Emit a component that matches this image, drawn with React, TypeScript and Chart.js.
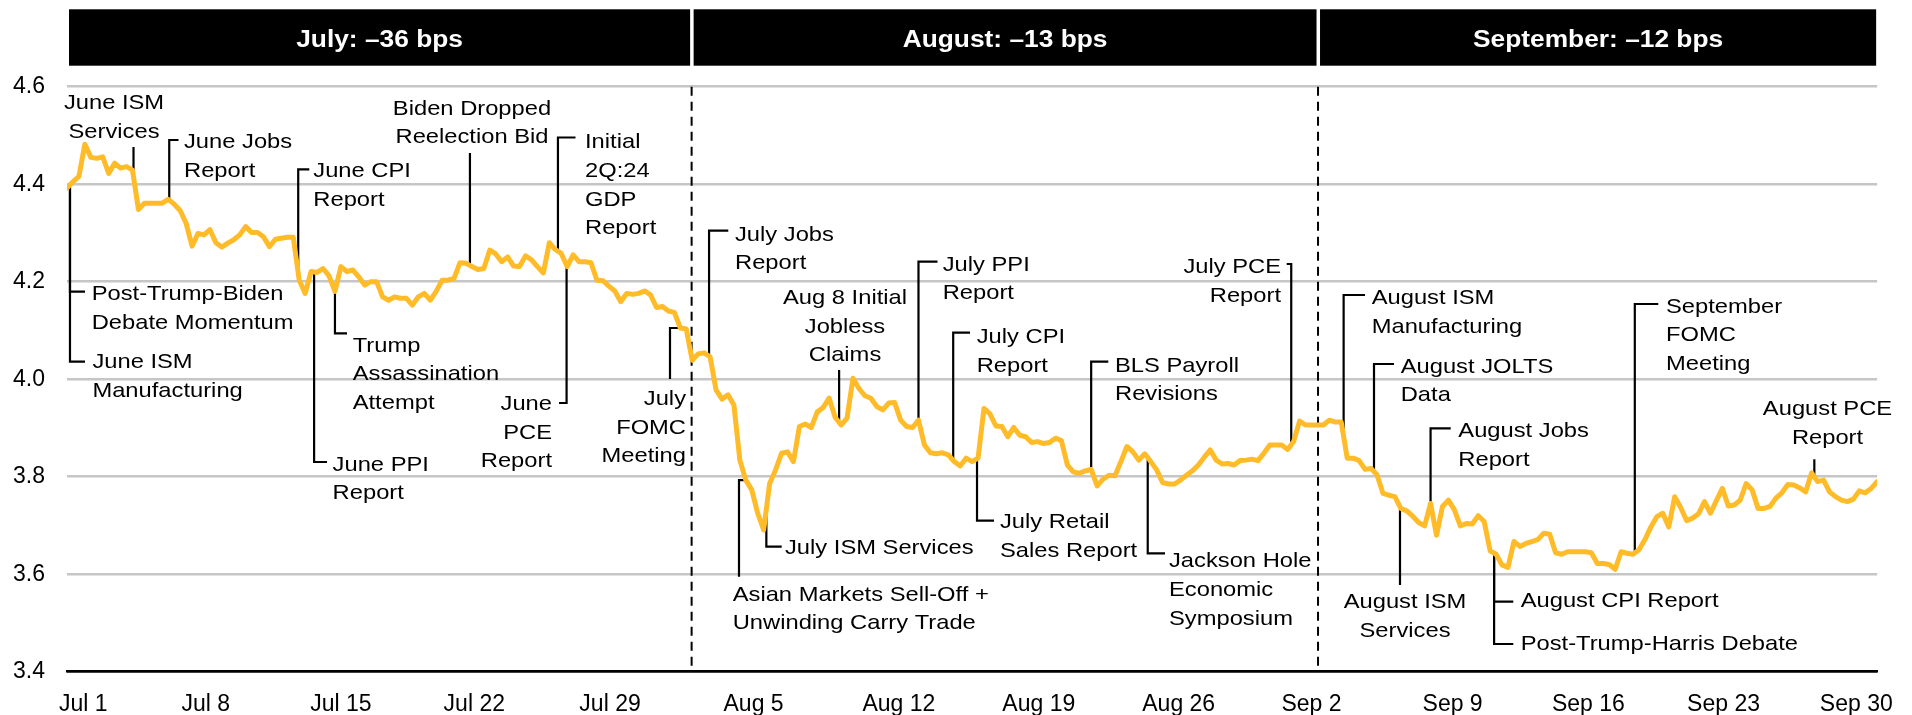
import React, { useEffect, useRef } from 'react';
import { Chart, registerables } from 'chart.js';

Chart.register(...registerables);

// ---------- DATA ----------
// 10-year yield (%), evenly spaced intraday observations, Jul 1 – Sep 30
const YIELD_SERIES: number[] = [
  4.392, 4.405, 4.416, 4.482, 4.455, 4.453, 4.456, 4.422, 4.443, 4.433,
  4.436, 4.429, 4.348, 4.361, 4.361, 4.361, 4.361, 4.369, 4.359, 4.346,
  4.320, 4.273, 4.299, 4.296, 4.307, 4.280, 4.271, 4.279, 4.286, 4.296,
  4.313, 4.301, 4.301, 4.292, 4.272, 4.287, 4.289, 4.291, 4.291, 4.203,
  4.176, 4.221, 4.219, 4.227, 4.212, 4.180, 4.231, 4.221, 4.224, 4.210,
  4.193, 4.200, 4.200, 4.169, 4.162, 4.169, 4.166, 4.166, 4.152, 4.169,
  4.176, 4.162, 4.180, 4.203, 4.203, 4.207, 4.239, 4.238, 4.231, 4.225,
  4.227, 4.265, 4.257, 4.241, 4.251, 4.232, 4.231, 4.253, 4.245, 4.231,
  4.218, 4.280, 4.266, 4.258, 4.231, 4.255, 4.241, 4.241, 4.239, 4.203,
  4.202, 4.191, 4.181, 4.159, 4.176, 4.174, 4.176, 4.181, 4.173, 4.147,
  4.149, 4.140, 4.137, 4.105, 4.103, 4.039, 4.052, 4.054, 4.046, 3.978,
  3.959, 3.968, 3.947, 3.834, 3.793, 3.773, 3.725, 3.691, 3.786, 3.814,
  3.848, 3.851, 3.831, 3.903, 3.908, 3.901, 3.933, 3.942, 3.961, 3.922,
  3.906, 3.920, 4.002, 3.981, 3.966, 3.961, 3.944, 3.937, 3.951, 3.952,
  3.916, 3.903, 3.901, 3.916, 3.865, 3.849, 3.847, 3.849, 3.845, 3.831,
  3.822, 3.838, 3.831, 3.838, 3.940, 3.929, 3.904, 3.903, 3.882, 3.901,
  3.885, 3.882, 3.870, 3.872, 3.868, 3.870, 3.879, 3.874, 3.824, 3.810,
  3.807, 3.812, 3.815, 3.781, 3.795, 3.803, 3.802, 3.831, 3.862, 3.851,
  3.834, 3.847, 3.831, 3.814, 3.788, 3.785, 3.785, 3.793, 3.803, 3.812,
  3.824, 3.840, 3.855, 3.834, 3.826, 3.827, 3.824, 3.833, 3.834, 3.836,
  3.833, 3.848, 3.865, 3.865, 3.865, 3.856, 3.872, 3.914, 3.906, 3.906,
  3.906, 3.906, 3.916, 3.912, 3.912, 3.838, 3.838, 3.833, 3.815, 3.817,
  3.804, 3.766, 3.762, 3.759, 3.735, 3.730, 3.719, 3.706, 3.699, 3.745,
  3.680, 3.739, 3.752, 3.732, 3.699, 3.704, 3.703, 3.720, 3.708, 3.648,
  3.641, 3.619, 3.614, 3.667, 3.657, 3.663, 3.667, 3.671, 3.684, 3.682,
  3.644, 3.641, 3.646, 3.646, 3.646, 3.646, 3.644, 3.622, 3.622, 3.620,
  3.610, 3.646, 3.643, 3.641, 3.650, 3.671, 3.697, 3.718, 3.725, 3.697,
  3.759, 3.737, 3.710, 3.715, 3.724, 3.749, 3.725, 3.751, 3.776, 3.740,
  3.742, 3.752, 3.786, 3.773, 3.735, 3.735, 3.739, 3.756, 3.767, 3.784,
  3.783, 3.777, 3.769, 3.808, 3.790, 3.793, 3.769, 3.759, 3.752, 3.749,
  3.754, 3.771, 3.767, 3.776, 3.790,
];

// x tick labels and the observation index where each sits
const X_TICK_LABELS: string[] = [
  'Jul 1', 'Jul 8', 'Jul 15', 'Jul 22', 'Jul 29', 'Aug 5', 'Aug 12',
  'Aug 19', 'Aug 26', 'Sep 2', 'Sep 9', 'Sep 16', 'Sep 23', 'Sep 30',
];
const X_TICK_INDEX: number[] = [
  2.75, 23.3, 46, 68.4, 91.2, 115.3, 139.7, 163.2, 186.7, 209, 232.7, 255.5, 278.2, 300.5,
];

const Y_MIN = 3.4;
const Y_MAX = 4.6;
const Y_STEP = 0.2;

// month boundaries (observation index) and month headers
const MONTH_BREAK_INDEX: number[] = [104.9, 210.1];
const MONTH_HEADERS: string[] = ['July: \u201336 bps', 'August: \u201313 bps', 'September: \u201312 bps'];

// events: text and anchor observation index
const EVENT_TEXT: string[][] = [
  ['June ISM', 'Services'],
  ['June Jobs', 'Report'],
  ['June CPI', 'Report'],
  ['Biden Dropped', 'Reelection Bid'],
  ['Initial', '2Q:24', 'GDP', 'Report'],
  ['Post-Trump-Biden', 'Debate Momentum'],
  ['June ISM', 'Manufacturing'],
  ['June PPI', 'Report'],
  ['Trump', 'Assassination', 'Attempt'],
  ['June', 'PCE', 'Report'],
  ['July', 'FOMC', 'Meeting'],
  ['July Jobs', 'Report'],
  ['July ISM Services'],
  ['Asian Markets Sell-Off +', 'Unwinding Carry Trade'],
  ['Aug 8 Initial', 'Jobless', 'Claims'],
  ['July PPI', 'Report'],
  ['July CPI', 'Report'],
  ['July Retail', 'Sales Report'],
  ['BLS Payroll', 'Revisions'],
  ['Jackson Hole', 'Economic', 'Symposium'],
  ['July PCE', 'Report'],
  ['August ISM', 'Manufacturing'],
  ['August JOLTS', 'Data'],
  ['August ISM', 'Services'],
  ['August Jobs', 'Report'],
  ['August CPI Report'],
  ['Post-Trump-Harris Debate'],
  ['September', 'FOMC', 'Meeting'],
  ['August PCE', 'Report'],
];
const EVENT_INDEX: number[] = [
  11.17, 17.17, 38.83, 67.67, 82.45, 0.5, 0.5, 41.5, 45, 83.9,
  103, 107.83, 117.45, 114, 129.67, 143, 148.83, 152.83, 172, 181.5,
  205.6, 214.4, 219.5, 224.1, 229, 239.67, 239.67, 263.3, 293.45,
];

// ---------- LAYOUT (positions of the event texts and leader elbows, in px) ----------
type Leader = { kind: 'v'; yEnd: number; xEnd?: number } | { kind: 'h'; xTurn: number; yEnd: number };
type EventLayout = { align: CanvasTextAlign; tx: number; ty: number; leader: Leader };
const EVENT_LAYOUT: EventLayout[] = [
  { align: 'center', tx: 114, ty: 109, leader: { kind: 'v', yEnd: 147 } },
  { align: 'left', tx: 184, ty: 148.3, leader: { kind: 'v', yEnd: 140, xEnd: 178.5 } },
  { align: 'left', tx: 313.3, ty: 177.3, leader: { kind: 'v', yEnd: 169.3, xEnd: 309.3 } },
  { align: 'center', tx: 472, ty: 114.6, leader: { kind: 'v', yEnd: 153 } },
  { align: 'left', tx: 585, ty: 148.3, leader: { kind: 'v', yEnd: 137.5, xEnd: 575.5 } },
  { align: 'left', tx: 91.7, ty: 300, leader: { kind: 'v', yEnd: 291.7, xEnd: 85 } },
  { align: 'left', tx: 92.4, ty: 368.3, leader: { kind: 'v', yEnd: 361.7, xEnd: 85 } },
  { align: 'left', tx: 332.6, ty: 470.6, leader: { kind: 'v', yEnd: 462, xEnd: 327 } },
  { align: 'left', tx: 352.7, ty: 351.7, leader: { kind: 'v', yEnd: 333.3, xEnd: 347 } },
  { align: 'right', tx: 552, ty: 410, leader: { kind: 'v', yEnd: 403, xEnd: 559 } },
  { align: 'right', tx: 686, ty: 405, leader: { kind: 'h', xTurn: 670, yEnd: 379 } },
  { align: 'left', tx: 735, ty: 240.7, leader: { kind: 'v', yEnd: 230.7, xEnd: 728.3 } },
  { align: 'left', tx: 785, ty: 554, leader: { kind: 'v', yEnd: 546.7, xEnd: 781.7 } },
  { align: 'left', tx: 732.7, ty: 600.7, leader: { kind: 'h', xTurn: 739, yEnd: 576.7 } },
  { align: 'center', tx: 845, ty: 304, leader: { kind: 'v', yEnd: 370 } },
  { align: 'left', tx: 942.7, ty: 270.7, leader: { kind: 'v', yEnd: 261.7, xEnd: 937.5 } },
  { align: 'left', tx: 976.7, ty: 343, leader: { kind: 'v', yEnd: 332.7, xEnd: 970 } },
  { align: 'left', tx: 1000, ty: 528.3, leader: { kind: 'v', yEnd: 520.7, xEnd: 994 } },
  { align: 'left', tx: 1115, ty: 371.7, leader: { kind: 'v', yEnd: 361.7, xEnd: 1108.3 } },
  { align: 'left', tx: 1169, ty: 567.3, leader: { kind: 'v', yEnd: 553.3, xEnd: 1165 } },
  { align: 'right', tx: 1281, ty: 273.3, leader: { kind: 'v', yEnd: 264, xEnd: 1286.7 } },
  { align: 'left', tx: 1371.7, ty: 304, leader: { kind: 'v', yEnd: 295, xEnd: 1365 } },
  { align: 'left', tx: 1400.7, ty: 372.7, leader: { kind: 'v', yEnd: 364, xEnd: 1394 } },
  { align: 'center', tx: 1405, ty: 608.3, leader: { kind: 'h', xTurn: 1400, yEnd: 585 } },
  { align: 'left', tx: 1458.3, ty: 437.3, leader: { kind: 'v', yEnd: 428.3, xEnd: 1450.7 } },
  { align: 'left', tx: 1520.7, ty: 606.7, leader: { kind: 'v', yEnd: 601.7, xEnd: 1513.3 } },
  { align: 'left', tx: 1520.7, ty: 650, leader: { kind: 'v', yEnd: 644, xEnd: 1513.3 } },
  { align: 'left', tx: 1666, ty: 312.7, leader: { kind: 'v', yEnd: 304, xEnd: 1658.3 } },
  { align: 'center', tx: 1827.5, ty: 415, leader: { kind: 'v', yEnd: 459.3 } },
];

const FONT = '"Liberation Sans", Arial, Helvetica, sans-serif';
const TEXT_SIZE = 21;
const TEXT_STRETCH = 1.13;
const LINE_GAP = 28.7;
const LINE_COLOR = '#FFBB28';
const GRID_COLOR = '#C6C6C6';
const HEADER_TOP = 9.3;
const HEADER_BOTTOM = 65.7;
const HEADER_BASELINE = 46.7;

function valueAt(idx: number): number {
  const i0 = Math.max(0, Math.min(YIELD_SERIES.length - 1, Math.floor(idx)));
  const i1 = Math.min(YIELD_SERIES.length - 1, i0 + 1);
  const f = idx - i0;
  return YIELD_SERIES[i0] + (YIELD_SERIES[i1] - YIELD_SERIES[i0]) * f;
}

function stretchedText(ctx: CanvasRenderingContext2D, text: string, x: number, y: number, sx: number) {
  ctx.save();
  ctx.translate(x, y);
  ctx.scale(sx, 1);
  ctx.fillText(text, 0, 0);
  ctx.restore();
}

const annotationPlugin = {
  id: 'eventAnnotations',
  beforeDatasetsDraw(chart: any) {
    const { ctx, chartArea, scales } = chart;
    const xs = scales.x;
    const ys = scales.y;
    ctx.save();
    // month separators
    ctx.strokeStyle = '#000';
    ctx.lineWidth = 2;
    ctx.setLineDash([9, 6]);
    MONTH_BREAK_INDEX.forEach((b) => {
      const px = xs.getPixelForValue(b);
      ctx.beginPath();
      ctx.moveTo(px, chartArea.top);
      ctx.lineTo(px, chartArea.bottom);
      ctx.stroke();
    });
    ctx.setLineDash([]);
    // leader lines
    ctx.lineWidth = 2.2;
    ctx.lineCap = 'butt';
    ctx.lineJoin = 'miter';
    EVENT_INDEX.forEach((idx, k) => {
      const lay = EVENT_LAYOUT[k];
      const px = xs.getPixelForValue(idx);
      const py = ys.getPixelForValue(valueAt(idx));
      ctx.beginPath();
      ctx.moveTo(px, py);
      if (lay.leader.kind === 'v') {
        ctx.lineTo(px, lay.leader.yEnd);
        if (lay.leader.xEnd !== undefined) ctx.lineTo(lay.leader.xEnd, lay.leader.yEnd);
      } else {
        ctx.lineTo(lay.leader.xTurn, py);
        ctx.lineTo(lay.leader.xTurn, lay.leader.yEnd);
      }
      ctx.stroke();
    });
    ctx.restore();
  },
  afterDraw(chart: any) {
    const { ctx, chartArea, scales } = chart;
    const xs = scales.x;
    ctx.save();
    // month headers
    const edges = [chartArea.left + 2, ...MONTH_BREAK_INDEX.map((b) => xs.getPixelForValue(b)), chartArea.right - 1];
    MONTH_HEADERS.forEach((label, k) => {
      const x0 = k === 0 ? edges[k] : edges[k] + 2;
      const x1 = k === MONTH_HEADERS.length - 1 ? edges[k + 1] : edges[k + 1] - 1.5;
      ctx.fillStyle = '#000';
      ctx.fillRect(x0, HEADER_TOP, x1 - x0, HEADER_BOTTOM - HEADER_TOP);
      ctx.fillStyle = '#fff';
      ctx.font = `bold 23.5px ${FONT}`;
      ctx.textAlign = 'center';
      ctx.textBaseline = 'alphabetic';
      stretchedText(ctx, label, (x0 + x1) / 2, HEADER_BASELINE, 1.12);
    });
    // event texts
    ctx.fillStyle = '#000';
    ctx.font = `${TEXT_SIZE}px ${FONT}`;
    ctx.textBaseline = 'alphabetic';
    EVENT_TEXT.forEach((lines, k) => {
      const lay = EVENT_LAYOUT[k];
      ctx.textAlign = lay.align;
      lines.forEach((line, j) => {
        stretchedText(ctx, line, lay.tx, lay.ty + j * LINE_GAP, TEXT_STRETCH);
      });
    });
    ctx.restore();
  },
};

export default function App() {
  const canvasRef = useRef<HTMLCanvasElement | null>(null);

  useEffect(() => {
    const canvas = canvasRef.current;
    if (!canvas) return;
    const points = YIELD_SERIES.map((v, i) => ({ x: i, y: v }));
    const chart = new Chart(canvas, {
      type: 'line',
      data: {
        datasets: [
          {
            data: points,
            borderColor: LINE_COLOR,
            borderWidth: 5,
            pointRadius: 0,
            tension: 0,
            borderJoinStyle: 'round',
            borderCapStyle: 'round',
            fill: false,
          },
        ],
      },
      options: {
        responsive: false,
        animation: false,
        devicePixelRatio: 1,
        layout: { padding: { left: 0, right: 21, top: 86.7, bottom: 0 } },
        plugins: {
          legend: { display: false },
          tooltip: { enabled: false },
          title: { display: false },
        },
        scales: {
          x: {
            type: 'linear',
            min: 0,
            max: YIELD_SERIES.length - 1,
            grid: { display: false, drawTicks: false },
            border: { display: true, color: '#000', width: 2.5 },
            afterBuildTicks: (scale: any) => {
              scale.ticks = X_TICK_INDEX.map((v) => ({ value: v }));
            },
            afterFit: (scale: any) => {
              scale.height = 43.3;
            },
            ticks: {
              autoSkip: false,
              maxRotation: 0,
              minRotation: 0,
              padding: 19,
              color: '#000',
              font: { family: FONT, size: 23 },
              callback: (_v: any, index: number) => X_TICK_LABELS[index],
            },
          },
          y: {
            type: 'linear',
            min: Y_MIN,
            max: Y_MAX,
            grid: {
              drawTicks: false,
              lineWidth: 2.5,
              color: (c: any) => (Math.abs(c.tick.value - Y_MIN) < 1e-6 ? '#000' : GRID_COLOR),
            },
            border: { display: false },
            afterFit: (scale: any) => {
              scale.width = 67;
            },
            ticks: {
              stepSize: Y_STEP,
              padding: 22,
              color: '#000',
              font: { family: FONT, size: 23 },
              callback: (v: any) => Number(v).toFixed(1),
            },
          },
        },
      },
      plugins: [annotationPlugin],
    } as any);
    return () => {
      chart.destroy();
    };
  }, []);

  return (
    <div style={{ position: 'absolute', left: 0, top: 0, width: 1912, height: 715, background: '#fff' }}>
      <canvas ref={canvasRef} width={1912} height={715} style={{ display: 'block', width: 1912, height: 715 }} />
    </div>
  );
}
